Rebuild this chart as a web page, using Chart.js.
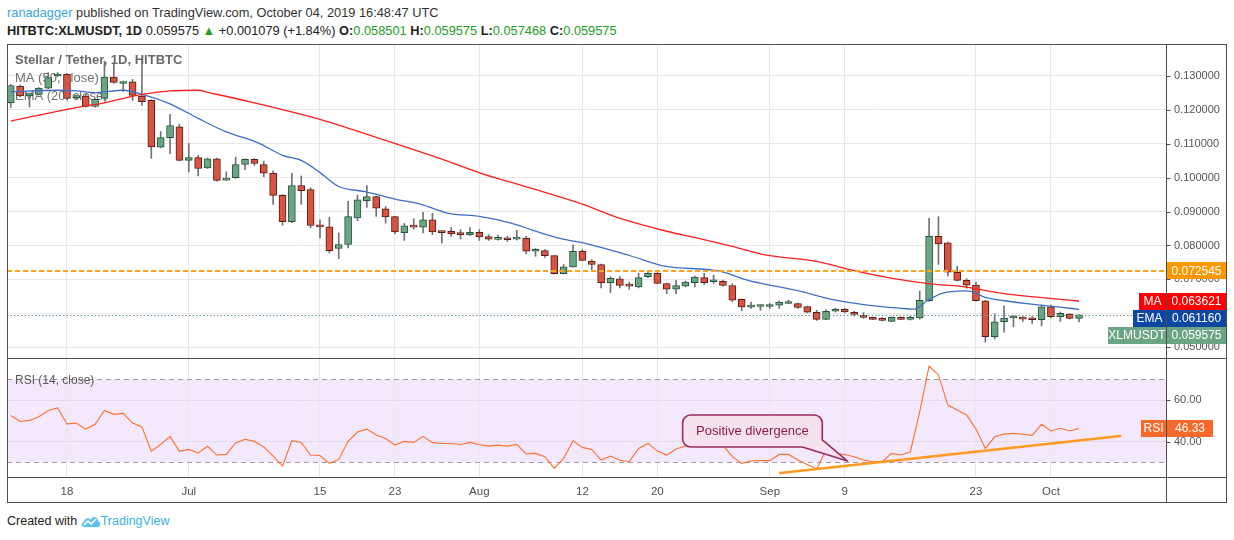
<!DOCTYPE html>
<html>
<head>
<meta charset="utf-8">
<script src="https://cdn.jsdelivr.net/npm/chart.js@4.4.1/dist/chart.umd.min.js"></script>
<style>
  html,body{margin:0;padding:0;background:#fff;}
  body{width:1234px;height:540px;position:relative;overflow:hidden;font-family:'Liberation Sans',Arial,sans-serif;color:#222;}
  .t{position:absolute;white-space:nowrap;}
  #h1{left:7px;top:5px;font-size:12.8px;color:#333;}
  #h2{left:7px;top:23px;font-size:12.8px;color:#222;}
  .g{color:#21a124;}
  #pc{position:absolute;left:7px;top:44px;}
  #rc{position:absolute;left:7px;top:358px;}
  #foot{left:7px;top:514px;font-size:12.5px;color:#222;display:flex;align-items:center;}
</style>
</head>
<body>
<div class="t" id="h1"><span style="color:#3ba6de">ranadagger</span> published on TradingView.com, October 04, 2019 16:48:47 UTC</div>
<div class="t" id="h2"></div>
<canvas id="pc" width="1220" height="314"></canvas>
<canvas id="rc" width="1220" height="145"></canvas>
<div class="t" id="foot">Created with&nbsp;<svg width="20" height="14" viewBox="0 0 20 14"><path d="M3 13 C0 13 0 8 3 8 C3 4 8 3 9.5 6 C11 2 17 2 17 7 C20 7 20 13 17 13 Z" fill="#5cc3ec"/><path d="M3 11 L7 7 L10 10 L15 5" stroke="#fff" stroke-width="1.6" fill="none"/></svg><span style="color:#3bb3e4">TradingView</span></div>
<script>
// ---------------- DATA ----------------
const dates = [
 '06-12','06-13','06-14','06-15','06-16','06-17','06-18','06-19','06-20','06-21','06-22','06-23','06-24','06-25','06-26','06-27','06-28','06-29','06-30',
 '07-01','07-02','07-03','07-04','07-05','07-06','07-07','07-08','07-09','07-10','07-11','07-12','07-13','07-14','07-15','07-16','07-17','07-18','07-19','07-20','07-21','07-22','07-23','07-24','07-25','07-26','07-27','07-28','07-29','07-30','07-31',
 '08-01','08-02','08-03','08-04','08-05','08-06','08-07','08-08','08-09','08-10','08-11','08-12','08-13','08-14','08-15','08-16','08-17','08-18','08-19','08-20','08-21','08-22','08-23','08-24','08-25','08-26','08-27','08-28','08-29','08-30','08-31',
 '09-01','09-02','09-03','09-04','09-05','09-06','09-07','09-08','09-09','09-10','09-11','09-12','09-13','09-14','09-15','09-16','09-17','09-18','09-19','09-20','09-21','09-22','09-23','09-24','09-25','09-26','09-27','09-28','09-29','09-30',
 '10-01','10-02','10-03','10-04'];

const open = [
 0.1221,0.1270,0.1241,0.1246,0.1264,0.1300,0.1305,0.1236,0.1241,0.1210,
 0.1234,0.1297,0.1278,0.1283,0.1241,0.1228,0.1090,0.1118,0.1150,0.1051,
 0.1059,0.1029,0.1056,0.0993,0.1000,0.1039,0.1054,0.1039,0.1013,0.0948,
 0.0870,0.0977,0.0965,0.0858,0.0855,0.0791,0.0803,0.0881,0.0932,0.0944,
 0.0908,0.0885,0.0838,0.0859,0.0854,0.0876,0.0841,0.0842,0.0834,0.0832,
 0.0839,0.0826,0.0818,0.0820,0.0819,0.0822,0.0783,0.0785,0.0770,0.0717,
 0.0737,0.0783,0.0754,0.0744,0.0690,0.0702,0.0684,0.0678,0.0708,0.0718,
 0.0688,0.0671,0.0680,0.0690,0.0705,0.0693,0.0694,0.0682,0.0641,0.0618,
 0.0620,0.0620,0.0624,0.0629,0.0629,0.0620,0.0603,0.0582,0.0606,0.0612,
 0.0603,0.0594,0.0588,0.0583,0.0576,0.0587,0.0582,0.0586,0.0637,0.0827,
 0.0808,0.0721,0.0697,0.0683,0.0637,0.0531,0.0575,0.0586,0.0588,0.0585,
 0.0581,0.0619,0.0590,0.0598,0.058501];
const high = [
 0.1275,0.1273,0.1250,0.1266,0.1310,0.1310,0.1307,0.1243,0.1246,0.1233,
 0.1344,0.1340,0.1285,0.1290,0.1345,0.1230,0.1136,0.1187,0.1157,0.1101,
 0.1066,0.1058,0.1058,0.1017,0.1061,0.1056,0.1056,0.1049,0.1020,0.0950,
 0.1013,0.1005,0.0970,0.0876,0.0883,0.0837,0.0930,0.0949,0.0977,0.0946,
 0.0915,0.0886,0.0865,0.0879,0.0898,0.0895,0.0843,0.0853,0.0847,0.0853,
 0.0847,0.0832,0.0830,0.0827,0.0845,0.0827,0.0791,0.0788,0.0771,0.0744,
 0.0801,0.0788,0.0758,0.0745,0.0708,0.0708,0.0692,0.0718,0.0720,0.0720,
 0.0689,0.0697,0.0695,0.0710,0.0718,0.0713,0.0697,0.0687,0.0642,0.0633,
 0.0625,0.0629,0.0636,0.0639,0.0630,0.0621,0.0609,0.0611,0.0615,0.0615,
 0.0606,0.0602,0.0589,0.0587,0.0589,0.0589,0.0591,0.0666,0.0880,0.0885,
 0.0810,0.0739,0.0702,0.0692,0.0638,0.0598,0.0622,0.0593,0.0590,0.0590,
 0.0624,0.0624,0.0604,0.0599,0.059575];
const low = [
 0.1207,0.1238,0.1209,0.1244,0.1262,0.1298,0.1232,0.1233,0.1208,0.1208,
 0.1228,0.1279,0.1254,0.1228,0.1213,0.1057,0.1088,0.1071,0.1050,0.1017,
 0.1005,0.1027,0.0990,0.0991,0.0998,0.1024,0.1036,0.1003,0.0921,0.0860,
 0.0867,0.0921,0.0852,0.0822,0.0778,0.0761,0.0793,0.0873,0.0912,0.0886,
 0.0866,0.0834,0.0815,0.0848,0.0837,0.0832,0.0807,0.0827,0.0819,0.0830,
 0.0815,0.0815,0.0816,0.0812,0.0816,0.0776,0.0768,0.0765,0.0716,0.0716,
 0.0736,0.0755,0.0729,0.0675,0.0661,0.0675,0.0671,0.0675,0.0705,0.0687,
 0.0658,0.0658,0.0678,0.0678,0.0685,0.0688,0.0680,0.0634,0.0607,0.0614,
 0.0609,0.0614,0.0614,0.0628,0.0614,0.0602,0.0579,0.0581,0.0604,0.0602,
 0.0592,0.0585,0.0581,0.0577,0.0575,0.0581,0.0580,0.0583,0.0635,0.0744,
 0.0710,0.0695,0.0674,0.0636,0.0515,0.0524,0.0544,0.0560,0.0576,0.0570,
 0.0563,0.0586,0.0576,0.0583,0.057468];
const close = [
 0.1272,0.1241,0.1248,0.1264,0.1295,0.1305,0.1234,0.1241,0.1210,0.1231,
 0.1297,0.1281,0.1281,0.1243,0.1224,0.1091,0.1118,0.1154,0.1051,0.1059,
 0.1027,0.1056,0.0992,0.0998,0.1039,0.1054,0.1042,0.1013,0.0948,0.0870,
 0.0977,0.0962,0.0859,0.0855,0.0785,0.0803,0.0885,0.0935,0.0944,0.0910,
 0.0884,0.0840,0.0858,0.0854,0.0876,0.0840,0.0838,0.0834,0.0832,0.0839,
 0.0825,0.0819,0.0820,0.0817,0.0823,0.0783,0.0786,0.0770,0.0717,0.0737,
 0.0783,0.0756,0.0744,0.0690,0.0703,0.0682,0.0680,0.0705,0.0718,0.0688,
 0.0671,0.0682,0.0692,0.0707,0.0690,0.0695,0.0682,0.0639,0.0619,0.0621,
 0.0623,0.0623,0.0633,0.0631,0.0617,0.0603,0.0582,0.0606,0.0612,0.0604,
 0.0597,0.0588,0.0582,0.0579,0.0588,0.0582,0.0585,0.0638,0.0827,0.0805,
 0.0721,0.0697,0.0683,0.0637,0.0531,0.0575,0.0586,0.0590,0.0583,0.0581,
 0.0619,0.0590,0.0600,0.0585,0.059575];

const rsi = [
 52.6,49.7,50.2,52.0,55.0,56.2,48.5,48.9,46.0,48.3,
 55.0,53.1,53.6,48.9,47.0,35.4,38.6,42.5,35.3,36.2,
 34.5,37.7,33.5,33.8,39.3,41.1,40.1,37.4,33.0,28.2,
 40.4,39.6,33.5,33.3,29.5,31.4,40.1,44.6,46.0,43.2,
 41.5,38.3,40.1,39.6,42.5,39.5,39.1,39.1,38.6,39.6,
 38.6,37.8,38.3,37.8,38.6,34.0,34.3,32.7,27.1,31.9,
 40.4,37.2,36.2,31.1,33.0,31.0,30.3,36.7,39.1,35.4,
 33.5,36.4,37.8,41.1,39.1,40.3,38.3,32.7,29.5,30.6,
 30.9,30.8,33.8,33.8,31.1,29.0,26.8,35.9,34.3,33.8,
 32.7,31.1,30.3,30.3,34.3,33.5,35.1,54.4,76.4,72.1,
 57.6,55.2,52.8,46.0,36.7,42.3,43.6,44.0,43.5,43.0,
 48.3,45.1,46.4,45.1,46.33];

// MA(50) and EMA(20) (x = day offset from Jun 12)
const maDay = [0,7,10,14,17,20,21,26,31,33,40,46.8,50.2,55.5,61,64.7,70,73.4,76.9,80.5,85.8,90,93.9,98.2,101.8,105.3,108.9,114];
const maVal = [0.1167,0.1207,0.1221,0.1246,0.1256,0.1258,0.1252,0.1221,0.1187,0.1172,0.1110,0.1047,0.1013,0.0969,0.0922,0.0883,0.0842,0.0821,0.0798,0.0772,0.0754,0.0726,0.0704,0.0687,0.0678,0.0661,0.0649,0.063621];
const emaDay = [0,5,7,9,12,14,17,20,23,26.4,29,31,33,35,37.8,41,43.7,46.7,50,53.4,55.5,58.7,61.2,64.7,66.2,69.8,75.5,78.7,81.6,84.1,87.6,91.2,94.8,96.4,97.8,99.3,101.8,102.6,103.9,106,108.9,111.7,114];
const emaVal = [0.1254,0.1258,0.1256,0.1251,0.1258,0.1246,0.1218,0.1175,0.1135,0.1103,0.1066,0.1051,0.1015,0.0974,0.0959,0.0937,0.0922,0.0895,0.0886,0.0866,0.0847,0.0820,0.0807,0.0781,0.0769,0.0739,0.0725,0.0697,0.0680,0.0666,0.0641,0.0625,0.0615,0.0612,0.0637,0.0658,0.0666,0.0664,0.0648,0.0637,0.0627,0.0619,0.06116];

const tickDates  = ['06-18','07-01','07-15','07-23','08-01','08-12','08-20','09-01','09-09','09-23','10-01'];
const tickLabels = ['18','Jul','15','23','Aug','12','20','Sep','9','23','Oct'];
const priceTicks = [0.05,0.06,0.07,0.08,0.09,0.10,0.11,0.12,0.13];
const rsiTicks = [40,60];
const rsiBand = [30,70];
const resistanceLevel = 0.072545;

const trendDay = [82.1,118.4];
const trendRsi = [24.8,42.7];
const calloutText = 'Positive divergence';
const calloutDay = [71.7,86.6];
const calloutRsi = [52.8,37.4];
const calloutTip = [89.3,30.6];

const headerChange = '+0.001079 (+1.84%)';

// ---------------- BUILD ----------------
const dayOf = s => { const [m,d] = s.split('-').map(Number); return (Date.UTC(2019,m-1,d) - Date.UTC(2019,5,12))/864e5; };
const days = dates.map(dayOf);
const tickDays = tickDates.map(dayOf);
const N = close.length;
const fmt6 = v => v.toFixed(6);

document.getElementById('h2').innerHTML =
  '<b>HITBTC:XLMUSDT, 1D</b> ' + fmt6(close[N-1]) + ' <span class="g">&#9650;</span> ' + headerChange +
  ' <b>O:</b><span class="g">' + fmt6(open[N-1]) + '</span> <b>H:</b><span class="g">' + fmt6(high[N-1]) +
  '</span> <b>L:</b><span class="g">' + fmt6(low[N-1]) + '</span> <b>C:</b><span class="g">' + fmt6(close[N-1]) + '</span>';

Chart.defaults.font.family = "'Liberation Sans', Arial, sans-serif";
Chart.defaults.color = '#4e4e4e';

const X_MIN = -0.4, X_MAX = 123.28;
const FRAME = '#4d4d4d';
const GRID = '#e8e8e8';
const UP = '#6ba583', UP_B = '#225437', DN = '#d75442', DN_B = '#5b1a13', WICK = '#737375';

function hline(ctx,x0,x1,y){ctx.beginPath();ctx.moveTo(x0,y);ctx.lineTo(x1,y);ctx.stroke();}
function vline(ctx,x,y0,y1){ctx.beginPath();ctx.moveTo(x,y0);ctx.lineTo(x,y1);ctx.stroke();}
function tag(ctx,x,yc,w,h,fill,text){
  ctx.fillStyle = fill; ctx.fillRect(x, Math.round(yc-h/2), w, h);
  ctx.fillStyle = '#fff'; ctx.textAlign='center'; ctx.textBaseline='middle';
  ctx.fillText(text, x+w/2, Math.round(yc)+0.5);
}
const zeroPad = s => { s.paddingTop = 0; s.paddingBottom = 0; s.paddingLeft = 0; s.paddingRight = 0; };

const xScaleBase = (showLabels) => ({
  type:'linear', min:X_MIN, max:X_MAX, offset:false,
  grid:{color:GRID, drawTicks:false, offset:false},
  border:{display:false},
  afterBuildTicks: s => { s.ticks = tickDays.map(v => ({value:v})); },
  ticks: showLabels ? {
    autoSkip:false, maxRotation:0, padding:8, color:'#4e4e4e', font:{size:11.5},
    callback: v => { const i = tickDays.indexOf(v); return i >= 0 ? tickLabels[i] : ''; }
  } : {display:false},
  afterFit: s => { s.height = showLabels ? 26.5 : 0; zeroPad(s); }
});

// ---------------- PRICE PANE ----------------
const pricePlugin = {
  id:'pricePlugin',
  beforeDatasetsDraw(chart){
    const ctx = chart.ctx;
    ctx.save();
    ctx.textBaseline='middle'; ctx.textAlign='left';
    ctx.font = "bold 13px 'Liberation Sans', Arial";
    ctx.fillStyle='#6a6a6a'; ctx.fillText('Stellar / Tether, 1D, HITBTC', 8, 16);
    ctx.font = "13px 'Liberation Sans', Arial";
    ctx.fillStyle='#707070'; ctx.fillText('MA (50, close)', 8, 34); ctx.fillText('EMA (20, close)', 8, 52);
    ctx.restore();
  },
  afterDatasetsDraw(chart){
    const {ctx, chartArea:a, scales:{y}} = chart;
    ctx.save();
    let yy = Math.round(y.getPixelForValue(close[N-1]))+0.5;
    ctx.strokeStyle='#6b9a80'; ctx.lineWidth=1; ctx.setLineDash([1.5,2]);
    hline(ctx,a.left,a.right,yy);
    yy = Math.round(y.getPixelForValue(resistanceLevel));
    ctx.strokeStyle='#ffa31a'; ctx.lineWidth=2.2; ctx.setLineDash([5,3]);
    hline(ctx,a.left,a.right,yy);
    ctx.restore();
  },
  afterDraw(chart){
    const {ctx, chartArea:a, scales:{y}, width, height} = chart;
    ctx.save();
    ctx.strokeStyle=FRAME; ctx.lineWidth=1;
    hline(ctx,0,width,0.5);
    vline(ctx,0.5,0,height); vline(ctx,width-0.5,0,height);
    const ax = Math.round(a.right)+0.5;
    vline(ctx,ax,0,height);
    priceTicks.forEach(v => { const p = Math.round(y.getPixelForValue(v))+0.5; hline(ctx,ax,ax+4,p); });
    ctx.font = "12px 'Liberation Sans', Arial";
    const W = width - Math.round(a.right) - 2, H = 17, x0 = Math.round(a.right)+1;
    tag(ctx, x0, y.getPixelForValue(resistanceLevel), W, H, '#ff9800', fmt6(resistanceLevel));
    const maLast = maVal[maVal.length-1], emaLast = emaVal[emaVal.length-1];
    const yMA = y.getPixelForValue(maLast);
    const yEMA = Math.max(y.getPixelForValue(emaLast), yMA + H);
    const yLast = Math.max(y.getPixelForValue(close[N-1]), yEMA + H);
    tag(ctx, x0, yMA, W, H, '#ff0000', fmt6(maLast));
    tag(ctx, x0-28, yMA, 27, H, '#ff0000', 'MA');
    tag(ctx, x0, yEMA, W, H, '#0d47a1', fmt6(emaLast));
    tag(ctx, x0-34, yEMA, 33, H, '#0d47a1', 'EMA');
    tag(ctx, x0, yLast, W, H, UP, fmt6(close[N-1]));
    tag(ctx, x0-59, yLast, 58, H, UP, 'XLMUSDT');
    ctx.restore();
  }
};

new Chart(document.getElementById('pc'), {
  type:'bar',
  data:{ datasets:[
    {type:'line', label:'MA', data: maDay.map((d,i)=>({x:d,y:maVal[i]})), borderColor:'#ff1e1e', borderWidth:1.3, pointRadius:0, cubicInterpolationMode:'monotone', order:1},
    {type:'line', label:'EMA', data: emaDay.map((d,i)=>({x:d,y:emaVal[i]})), borderColor:'#3d6fc9', borderWidth:1.3, pointRadius:0, cubicInterpolationMode:'monotone', order:1},
    {type:'bar', label:'body', data: days.map((d,i)=>({x:d, y:[open[i], close[i]]})),
      backgroundColor: close.map((c,i)=> c >= open[i] ? UP : DN),
      borderColor: close.map((c,i)=> c >= open[i] ? UP_B : DN_B),
      borderWidth:1, borderSkipped:false, barThickness:7, grouped:false, minBarLength:2, order:2},
    {type:'bar', label:'wick', data: days.map((d,i)=>({x:d, y:[low[i], high[i]]})),
      backgroundColor: WICK, borderWidth:0, barThickness:1, grouped:false, order:3}
  ]},
  options:{
    responsive:false, animation:false, maintainAspectRatio:false,
    layout:{padding:0},
    plugins:{legend:{display:false}, tooltip:{enabled:false}},
    scales:{
      x: xScaleBase(false),
      y: {
        position:'right', min:0.04681, max:0.13944, beginAtZero:false,
        grid:{color:GRID, drawTicks:false},
        border:{display:false},
        afterBuildTicks: s => { s.ticks = priceTicks.map(v=>({value:v})); },
        ticks:{padding:8, color:'#555', font:{size:11}, callback: v => fmt6(v)},
        afterFit: s => { s.width = 61; zeroPad(s); }
      }
    }
  },
  plugins:[pricePlugin]
});

// ---------------- RSI PANE ----------------
const rsiPlugin = {
  id:'rsiPlugin',
  beforeDraw(chart){
    const {ctx, chartArea:a, scales:{y}} = chart;
    const yt = y.getPixelForValue(rsiBand[1]), yb = y.getPixelForValue(rsiBand[0]);
    ctx.save();
    ctx.fillStyle = '#f4e8fc';
    ctx.fillRect(a.left, yt, a.right - a.left, yb - yt);
    ctx.restore();
  },
  beforeDatasetsDraw(chart){
    const {ctx, chartArea:a, scales:{y}} = chart;
    ctx.save();
    ctx.strokeStyle = '#a39ca8'; ctx.lineWidth = 1; ctx.setLineDash([5,4]);
    rsiBand.forEach(v => hline(ctx, a.left, a.right, Math.round(y.getPixelForValue(v))+0.5));
    ctx.setLineDash([]);
    ctx.font = "12px 'Liberation Sans', Arial"; ctx.fillStyle = '#5a5a5a';
    ctx.textAlign='left'; ctx.textBaseline='middle';
    ctx.fillText('RSI (14, close)', 8, 23);
    ctx.restore();
  },
  afterDatasetsDraw(chart){
    const {ctx, scales:{x, y}} = chart;
    ctx.save();
    ctx.strokeStyle = '#ff9a1f'; ctx.lineWidth = 2.5; ctx.lineCap='round';
    ctx.beginPath();
    ctx.moveTo(x.getPixelForValue(trendDay[0]), y.getPixelForValue(trendRsi[0]));
    ctx.lineTo(x.getPixelForValue(trendDay[1]), y.getPixelForValue(trendRsi[1]));
    ctx.stroke();
    const L = x.getPixelForValue(calloutDay[0]), R = x.getPixelForValue(calloutDay[1]);
    const T = y.getPixelForValue(calloutRsi[0]), B = y.getPixelForValue(calloutRsi[1]);
    const tx = x.getPixelForValue(calloutTip[0]), ty = y.getPixelForValue(calloutTip[1]);
    const r = 8;
    ctx.beginPath();
    ctx.moveTo(L + r, T);
    ctx.lineTo(R - r, T);
    ctx.arcTo(R, T, R, T + r, r);
    ctx.lineTo(R, B - 7);
    ctx.lineTo(tx, ty);
    ctx.lineTo(R - 20, B);
    ctx.lineTo(L + r, B);
    ctx.arcTo(L, B, L, B - r, r);
    ctx.lineTo(L, T + r);
    ctx.arcTo(L, T, L + r, T, r);
    ctx.closePath();
    ctx.fillStyle = '#f6e2ee';
    ctx.fill();
    ctx.strokeStyle = '#9a2d5c'; ctx.lineWidth = 1.6; ctx.lineJoin='round';
    ctx.stroke();
    ctx.fillStyle = '#8e1c47';
    ctx.font = "13px 'Liberation Sans', Arial";
    ctx.textAlign = 'center'; ctx.textBaseline = 'middle';
    ctx.fillText(calloutText, (L + R) / 2, (T + B) / 2 + 0.5);
    ctx.restore();
  },
  afterDraw(chart){
    const {ctx, chartArea:a, scales:{y}, width, height} = chart;
    ctx.save();
    ctx.strokeStyle = FRAME; ctx.lineWidth = 1;
    hline(ctx, 0, width, 0.5);
    hline(ctx, 0, width, Math.round(a.bottom) + 0.5);
    hline(ctx, 0, width, height - 0.5);
    vline(ctx, 0.5, 0, height); vline(ctx, width - 0.5, 0, height);
    const ax = Math.round(a.right) + 0.5;
    vline(ctx, ax, 0, height);
    rsiTicks.forEach(v => { const p = Math.round(y.getPixelForValue(v)) + 0.5; hline(ctx, ax, ax + 4, p); });
    ctx.font = "12px 'Liberation Sans', Arial";
    const x0 = Math.round(a.right) + 1, H = 17;
    const yv = y.getPixelForValue(rsi[N-1]);
    tag(ctx, x0, yv, 46, H, '#f7692a', rsi[N-1].toFixed(2));
    tag(ctx, x0 - 26, yv, 25, H, '#f7692a', 'RSI');
    ctx.restore();
  }
};

new Chart(document.getElementById('rc'), {
  type:'line',
  data:{ datasets:[
    {label:'RSI', data: days.map((d,i)=>({x:d, y:rsi[i]})), borderColor:'#ff6f2c', borderWidth:1.1, pointRadius:0, tension:0}
  ]},
  options:{
    responsive:false, animation:false, maintainAspectRatio:false,
    layout:{padding:0},
    plugins:{legend:{display:false}, tooltip:{enabled:false}},
    scales:{
      x: xScaleBase(true),
      y: {
        position:'right', min:23.16, max:80.27,
        grid:{color:'#e2d9ea', drawTicks:false},
        border:{display:false},
        afterBuildTicks: s => { s.ticks = rsiTicks.map(v=>({value:v})); },
        ticks:{padding:8, color:'#555', font:{size:11}, callback: v => v.toFixed(2)},
        afterFit: s => { s.width = 61; zeroPad(s); }
      }
    }
  },
  plugins:[rsiPlugin]
});
</script>
</body>
</html>
